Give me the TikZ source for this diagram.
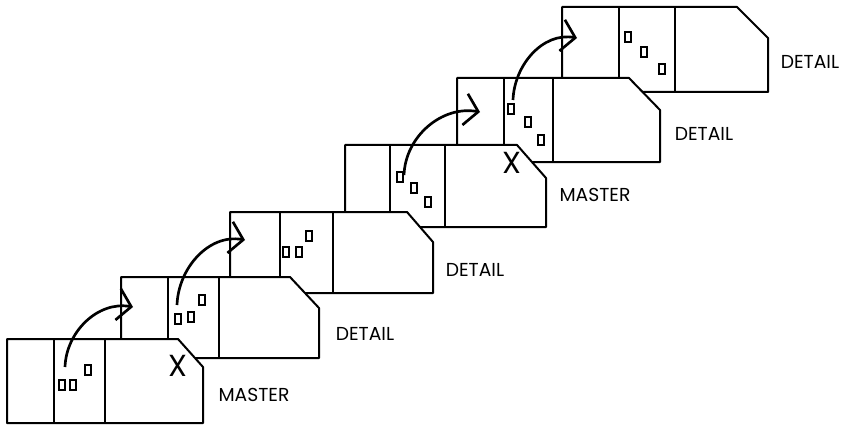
\documentclass[tikz,border=0pt]{standalone}
\usepackage{fontspec}
\usepackage{tikz}
\usetikzlibrary{arrows.meta}
\setmainfont{Poppins}

\begin{document}
\begin{tikzpicture}[x=0.03cm, y=-0.03cm, >={Straight Barb[length=4mm, width=9.5mm]},
    card/.style={draw, fill=white, line width=0.6mm, line join=round},
    rule/.style={draw, line width=0.55mm},
    hole/.style={rectangle, draw, line width=0.5mm, minimum width=1.8mm, minimum height=3.1mm, inner sep=0pt},
    feed/.style={draw, line width=0.8mm, ->},
    tag/.style={font=\fontsize{16}{16}\selectfont},
    cross/.style={font=\fontsize{26}{26}\selectfont, inner sep=0pt}]
  \useasboundingbox (0,0) rectangle (845,425);

  % cards, back to front
  \draw[card] (562,7) -- (737,7) -- (768,38) -- (768,92) -- (562,92) -- cycle;
  \draw[rule] (619,7) -- (619,92) (675,7) -- (675,92);
  \draw[card] (457,78) -- (629,78) -- (660,110) -- (660,162) -- (457,162) -- cycle;
  \draw[rule] (504,78) -- (504,162) (553,78) -- (553,162);
  \draw[card] (345,145) -- (517,145) -- (546,178) -- (546,227) -- (345,227) -- cycle;
  \draw[rule] (390,145) -- (390,227) (445,145) -- (445,227);
  \draw[card] (230,212) -- (407,212) -- (433,242) -- (433,293) -- (230,293) -- cycle;
  \draw[rule] (280,212) -- (280,293) (333,212) -- (333,293);
  \draw[card] (121,277) -- (290,277) -- (319,308) -- (319,358) -- (121,358) -- cycle;
  \draw[rule] (168,277) -- (168,358) (219,277) -- (219,358);
  \draw[card] (7,339) -- (178,339) -- (203,367) -- (203,423) -- (7,423) -- cycle;
  \draw[rule] (54,339) -- (54,423) (105,339) -- (105,423);

  % holes
  \node[hole] (a1) at (62,385) {};
  \node[hole] (a2) at (73,385) {};
  \node[hole] (a3) at (88,370) {};
  \node[hole] (b1) at (178,319) {};
  \node[hole] (b2) at (191,317) {};
  \node[hole] (b3) at (202,300) {};
  \node[hole] (c1) at (286,252) {};
  \node[hole] (c2) at (299,252) {};
  \node[hole] (c3) at (309,236) {};
  \node[hole] (d1) at (400,177) {};
  \node[hole] (d2) at (414,188) {};
  \node[hole] (d3) at (428,202) {};
  \node[hole] (e1) at (511,109) {};
  \node[hole] (e2) at (528,122) {};
  \node[hole] (e3) at (541,140) {};
  \node[hole] (f1) at (628,37) {};
  \node[hole] (f2) at (644,52) {};
  \node[hole] (f3) at (662,69) {};

  % feed arrows
  \coordinate (t1) at (65,367);
  \coordinate (p1) at (133,307);
  \coordinate (t2) at (177,305);
  \coordinate (p2) at (245,240);
  \coordinate (t3) at (404,175);
  \coordinate (p3) at (480,112);
  \coordinate (t4) at (513,100);
  \coordinate (p4) at (577,38);
  \draw[feed] (t1) to[out=88, in=170] (p1);
  \draw[feed] (t2) to[out=88, in=170] (p2);
  \draw[feed] (t3) to[out=88, in=170] (p3);
  \draw[feed] (t4) to[out=88, in=170] (p4);

  \node[cross] (x1) at (178,366) {X};
  \node[cross] (x2) at (512,163) {X};

  \node[tag] (m1) at (254,395) {MASTER};
  \node[tag] (d1l) at (365,334) {DETAIL};
  \node[tag] (d2l) at (475,270) {DETAIL};
  \node[tag] (m2) at (595,195) {MASTER};
  \node[tag] (d3l) at (704,134) {DETAIL};
  \node[tag] (d4l) at (810,62) {DETAIL};
\end{tikzpicture}
\end{document}
